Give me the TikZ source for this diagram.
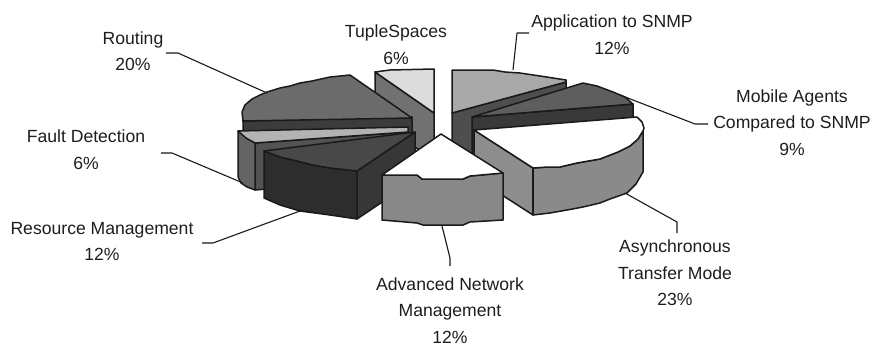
\documentclass[tikz,border=0pt]{standalone}
\usepackage{fontspec}
\setmainfont{Liberation Sans}

% slice shades
\definecolor{edgeclr}{HTML}{1A1A1A}
\definecolor{txtclr}{HTML}{1E1E1E}
\definecolor{tupTop}{HTML}{DCDCDC}
\definecolor{tupCut}{HTML}{717171}
\definecolor{appTop}{HTML}{A9A9A9}
\definecolor{appCut}{HTML}{4E4E4E}
\definecolor{mobTop}{HTML}{5E5E5E}
\definecolor{mobCut}{HTML}{393939}
\definecolor{rouTop}{HTML}{6B6B6B}
\definecolor{rouCut}{HTML}{3C3C3C}
\definecolor{fltTop}{HTML}{B3B3B3}
\definecolor{fltSide}{HTML}{646464}
\definecolor{fltCut}{HTML}{535353}
\definecolor{resTop}{HTML}{484848}
\definecolor{resFront}{HTML}{2D2D2D}
\definecolor{resCut}{HTML}{373737}
\definecolor{asyFront}{HTML}{8A8A8A}
\definecolor{asyCut}{HTML}{8E8E8E}
\definecolor{advFront}{HTML}{888888}

\tikzset{
  face/.style={draw=edgeclr, line width=1.5pt, line join=round},
  leader/.style={draw=edgeclr, line width=1.1pt, line join=round},
  lbl/.style={font=\fontsize{17.6}{26.5}\selectfont, text=txtclr, align=center, anchor=base, inner sep=0pt}
}

\begin{document}
\begin{tikzpicture}[x=1pt, y=-1pt]
\path[use as bounding box, fill=white] (0,0) rectangle (871,346);

% --- TupleSpaces
\filldraw[face, fill=tupCut] (375,72) -- (434,113) -- (434,160) -- (375,120) -- cycle;
\filldraw[face, fill=tupTop] (375,72) -- (390,70) -- (434,69) -- (434,113) -- cycle;

% --- Application to SNMP
\filldraw[face, fill=appCut] (452,113) -- (566,82) -- (566,128) -- (452,160) -- cycle;
\filldraw[face, fill=appTop] (452,70) -- (493,70) -- (505,72) -- (520,73) -- (540,76) -- (566,80) -- (566,82) -- (452,113) -- cycle;

% --- Mobile Agents
\filldraw[face, fill=mobCut] (472,117) -- (633,104) -- (633,150) -- (472,163) -- cycle;
\filldraw[face, fill=mobTop] (472,117) -- (583,83) -- (597,86) -- (613,92) -- (625,97) -- (633,104) -- cycle;

% --- Routing
\filldraw[face, fill=rouCut] (243,121) -- (412,117) -- (412,162) -- (243,166) -- cycle;
\filldraw[face, fill=rouTop] (243,121) -- (242,112) -- (245,105) -- (252,99) -- (260,95) -- (267,92) -- (280,88) -- (290,86) -- (300,83) -- (312,81) -- (330,77) -- (350,75) -- (412,118) -- cycle;

% --- Fault Detection
\filldraw[face, fill=fltCut] (255,143) -- (408,132) -- (408,178) -- (255,190) -- cycle;
\filldraw[face, fill=fltSide] (238,131) -- (255,143) -- (255,190) -- (247,187) -- (241,183) -- (238,177) -- cycle;
\filldraw[face, fill=fltTop] (238,131) -- (408,127) -- (408,132) -- (255,143) -- (246,138) -- cycle;

% --- Resource Management
\filldraw[face, fill=resCut] (357,171) -- (415,132) -- (415,180) -- (357,219) -- cycle;
\filldraw[face, fill=resFront] (264,151) -- (280,157) -- (297,161) -- (313,165) -- (330,168) -- (357,171) -- (357,219) -- (330,215) -- (300,211) -- (280,205) -- (264,198) -- cycle;
\filldraw[face, fill=resTop] (264,151) -- (415,132) -- (357,171) -- (330,168) -- (313,165) -- (297,161) -- (280,157) -- cycle;

% --- Asynchronous Transfer Mode
\filldraw[face, fill=asyCut] (474,130) -- (533,168) -- (533,215) -- (474,177) -- cycle;
\filldraw[face, fill=asyFront] (533,168) -- (548,167) -- (560,167) -- (577,163) -- (600,159) -- (618,152) -- (630,146) -- (638,139) -- (643,131) -- (643,172) -- (636,184) -- (627,193) -- (610,199) -- (600,203) -- (583,207) -- (567,210) -- (550,213) -- (533,215) -- cycle;
\filldraw[face, fill=white] (474,130) -- (637,117) -- (642,122) -- (644,128) -- (643,131) -- (638,139) -- (630,146) -- (618,152) -- (600,159) -- (577,163) -- (560,167) -- (548,167) -- (533,168) -- cycle;
\draw[edgeclr, line width=2.6pt] (533,168) -- (533,215);

% --- Advanced Network Management
\filldraw[face, fill=advFront] (382,175) -- (405,175) -- (417,175) -- (422,179) -- (463,179) -- (470,176) -- (503,173) -- (503,220) -- (470,222) -- (463,225) -- (423,225) -- (417,223) -- (382,220) -- cycle;
\filldraw[face, fill=white] (382,175) -- (441,134) -- (503,173) -- (470,176) -- (463,179) -- (422,179) -- (417,175) -- (405,175) -- cycle;

% --- labels (base anchor sits on the last line)
\node[lbl] (lRout) at (133,70.5)  {Routing\\20\%};
\node[lbl] (lTup)  at (396,64)    {TupleSpaces\\6\%};
\node[lbl] (lApp)  at (612,54)    {Application to SNMP\\12\%};
\node[lbl] (lMob)  at (792,155)   {Mobile Agents\\Compared to SNMP\\9\%};
\node[lbl] (lAsy)  at (675,305.5) {Asynchronous\\Transfer Mode\\23\%};
\node[lbl] (lAdv)  at (450,343)   {Advanced Network\\Management\\12\%};
\node[lbl] (lRes)  at (102,260.5) {Resource Management\\12\%};
\node[lbl] (lFlt)  at (86,169)    {Fault Detection\\6\%};

% --- leader lines: slice point, bend, label end
\coordinate (sRout) at (267,93);  \coordinate (bRout) at (178,53);  \coordinate (eRout) at (166,53);
\coordinate (sApp)  at (513,70);  \coordinate (bApp)  at (517,33);  \coordinate (eApp)  at (529,33);
\coordinate (sMob)  at (620,95);  \coordinate (bMob)  at (695,124); \coordinate (eMob)  at (708,124);
\coordinate (sAsy)  at (625,193); \coordinate (bAsy)  at (677,222); \coordinate (eAsy)  at (677,233);
\coordinate (sAdv)  at (442,226); \coordinate (bAdv)  at (450,258); \coordinate (eAdv)  at (450,266);
\coordinate (sRes)  at (300,211); \coordinate (bRes)  at (213,243); \coordinate (eRes)  at (202,243);
\coordinate (sFlt)  at (243,183); \coordinate (bFlt)  at (172,153); \coordinate (eFlt)  at (161,153);

\draw[leader] (sRout) -- (bRout) -- (eRout);
\draw[leader] (sApp) -- (bApp) -- (eApp);
\draw[leader] (sMob) -- (bMob) -- (eMob);
\draw[leader] (sAsy) -- (bAsy) -- (eAsy);
\draw[leader] (sAdv) -- (bAdv) -- (eAdv);
\draw[leader] (sRes) -- (bRes) -- (eRes);
\draw[leader] (sFlt) -- (bFlt) -- (eFlt);
\end{tikzpicture}
\end{document}
